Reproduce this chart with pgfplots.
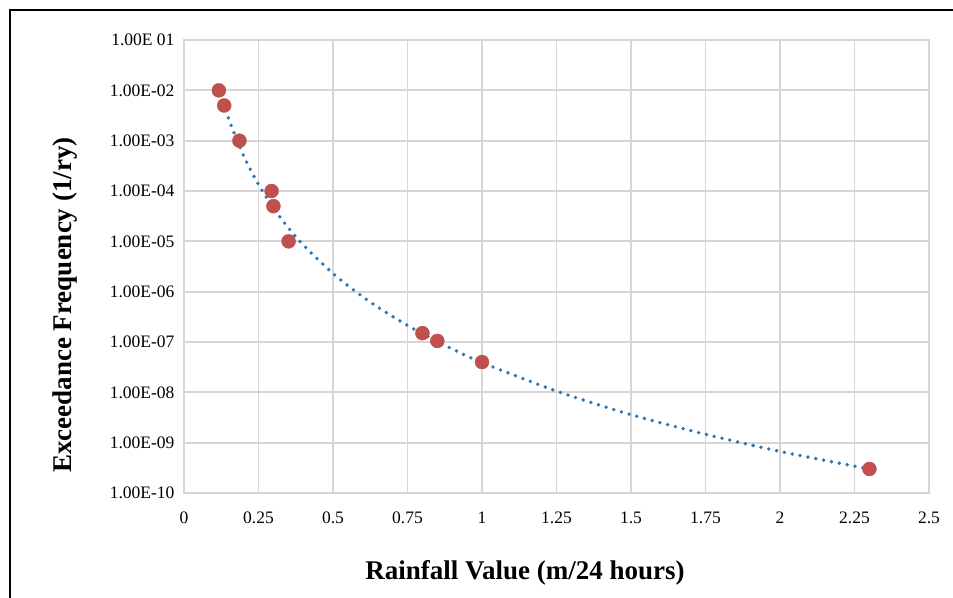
\documentclass[border=0pt]{standalone}
\usepackage{fontspec}
\setmainfont{Liberation Serif}
\usepackage{pgfplots}
\pgfplotsset{compat=1.18}

\definecolor{ptred}{HTML}{C0504D}
\definecolor{trendblue}{HTML}{2E75B6}
\definecolor{gridgray}{HTML}{D6D6D6}

% measured points
\pgfplotstableread{
x y
0.117 1.0e-2
0.135 5.0e-3
0.186 1.0e-3
0.294 1.0e-4
0.300 5.0e-5
0.351 1.0e-5
0.80 1.5e-7
0.85 1.05e-7
1.00 4.0e-8
2.30 3.0e-10
}\rainpts

% dotted trend line
\pgfplotstableread{
x y
0.117 1.15e-2
0.15 2.7e-3
0.20 5.0e-4
0.25 1.35e-4
0.30 4.6e-5
0.35 1.86e-5
0.40 8.5e-6
0.50 2.3e-6
0.60 7.9e-7
0.70 3.2e-7
0.80 1.46e-7
0.90 7.3e-8
1.00 3.9e-8
1.25 1.06e-8
1.50 3.6e-9
1.75 1.47e-9
2.00 6.7e-10
2.30 3.0e-10
}\raintrend

\begin{document}
\begin{tikzpicture}[x=1pt,y=1pt]
\fill[white] (0,0) rectangle (953,597);
\useasboundingbox (0,0) rectangle (953,597);
\draw[line width=2.5pt] (10,-2) -- (10,587) -- (955,587);
\begin{axis}[
  at={(184pt,104pt)}, anchor=south west,
  scale only axis, width=745pt, height=453pt,
  ymode=log,
  xmin=0, xmax=2.5, ymin=1e-10, ymax=1e-1,
  xtick={0,0.25,...,2.5},
  xticklabels={0,0.25,0.5,0.75,1,1.25,1.5,1.75,2,2.25,2.5},
  ytick={1e-10,1e-9,1e-8,1e-7,1e-6,1e-5,1e-4,1e-3,1e-2,1e-1},
  yticklabels={1.00E-10,1.00E-09,1.00E-08,1.00E-07,1.00E-06,1.00E-05,1.00E-04,1.00E-03,1.00E-02,1.00E 01},
  minor ytick={}, tick style={draw=none},
  grid=major, grid style={gridgray, line width=1.8pt},
  axis line style={gridgray, line width=1.8pt},
  tick label style={font=\fontsize{17.5}{20}\selectfont, text=black},
  xticklabel style={yshift=-15pt},
  yticklabel style={xshift=-6pt},
  xlabel={Rainfall Value (m/24 hours)},
  ylabel={Exceedance Frequency (1/ry)},
  label style={font=\fontsize{27}{30}\selectfont\bfseries},
  xlabel style={at={(axis description cs:0.4577,-0.1766)}, anchor=center},
  ylabel style={at={(axis description cs:-0.1597,0.415)}, anchor=center, rotate=0},
  clip=false,
]
\addplot[only marks, mark=*, mark size=7pt, color=ptred] table[x=x,y=y] {\rainpts};
\addplot[trendblue, line width=3.8pt, line cap=round, dash pattern=on 0pt off 8pt, smooth, no marks] table[x=x,y=y] {\raintrend};
\end{axis}
\end{tikzpicture}
\end{document}
